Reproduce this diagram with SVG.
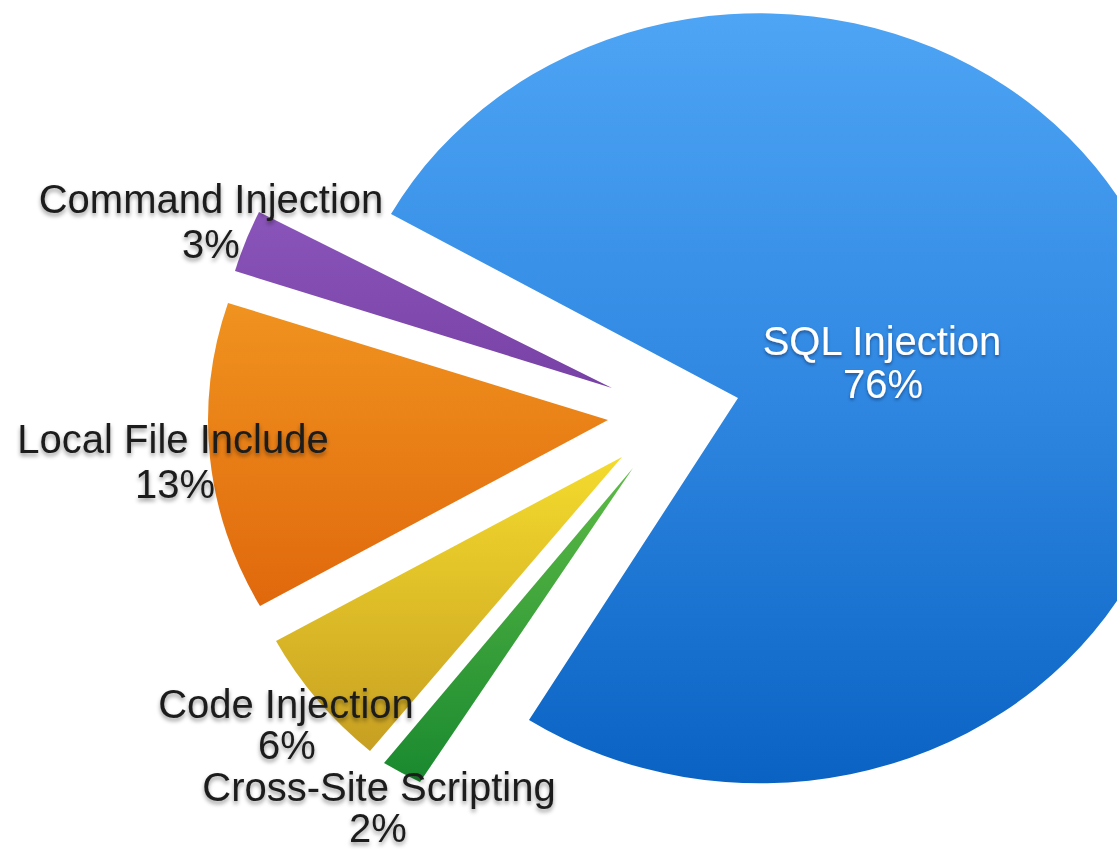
<svg xmlns="http://www.w3.org/2000/svg" width="1117" height="850" viewBox="0 0 1117 850">
  <defs>
    <linearGradient id="gBlue" x1="0" y1="0" x2="0" y2="1">
      <stop offset="0" stop-color="#4EA5F5"/>
      <stop offset="0.5" stop-color="#2F87E1"/>
      <stop offset="1" stop-color="#0A63C3"/>
    </linearGradient>
    <linearGradient id="gPurple" x1="0" y1="0" x2="0" y2="1">
      <stop offset="0" stop-color="#8A55BA"/>
      <stop offset="1" stop-color="#7841A6"/>
    </linearGradient>
    <linearGradient id="gOrange" x1="0" y1="0" x2="0" y2="1">
      <stop offset="0" stop-color="#F0931F"/>
      <stop offset="1" stop-color="#E0680C"/>
    </linearGradient>
    <linearGradient id="gYellow" x1="0" y1="0" x2="0" y2="1">
      <stop offset="0" stop-color="#F4DB2D"/>
      <stop offset="1" stop-color="#C79F22"/>
    </linearGradient>
    <linearGradient id="gGreen" x1="0" y1="0" x2="0" y2="1">
      <stop offset="0" stop-color="#5EBB46"/>
      <stop offset="1" stop-color="#19892F"/>
    </linearGradient>
    <filter id="darkShadow" x="-10%" y="-30%" width="120%" height="170%">
      <feDropShadow dx="0" dy="3" stdDeviation="2.2" flood-color="#000" flood-opacity="0.4"/>
    </filter>
    <filter id="lightShadow" x="-10%" y="-30%" width="120%" height="170%">
      <feDropShadow dx="0" dy="2" stdDeviation="1.5" flood-color="#0a2a55" flood-opacity="0.55"/>
    </filter>
  </defs>
  <style>
    .lbl { font-family: "Liberation Sans", Arial, sans-serif; font-size: 40px; text-anchor: middle; }
    .dark { fill: #1c1c1c; filter: url(#darkShadow); }
    .light { fill: #ffffff; filter: url(#lightShadow); }
  </style>

  <rect width="1117" height="850" fill="#ffffff"/>

  <!-- SQL Injection: main slice -->
  <g id="slice-sql">
    <path d="M738 398 L391 214 A420 385 0 1 1 529 720 Z" fill="url(#gBlue)"/>
  </g>

  <!-- Command Injection -->
  <g id="slice-command">
    <path d="M612 388 L259 212 A420 385 0 0 0 235 271 Z" fill="url(#gPurple)"/>
  </g>

  <!-- Local File Include -->
  <g id="slice-lfi">
    <path d="M608 420 L228 303 A420 385 0 0 0 260 606 Z" fill="url(#gOrange)"/>
  </g>

  <!-- Code Injection -->
  <g id="slice-code">
    <path d="M622 457 L276 641 A420 385 0 0 0 370 751 Z" fill="url(#gYellow)"/>
  </g>

  <!-- Cross-Site Scripting -->
  <g id="slice-xss">
    <path d="M633 468 L384 763 A420 385 0 0 0 420 782 Z" fill="url(#gGreen)"/>
  </g>

  <!-- labels -->
  <g id="label-sql" class="lbl light">
    <text x="882" y="355">SQL Injection</text>
    <text x="883" y="398">76%</text>
  </g>
  <g id="label-command" class="lbl dark">
    <text x="211" y="213">Command Injection</text>
    <text x="211" y="258">3%</text>
  </g>
  <g id="label-lfi" class="lbl dark">
    <text x="173" y="453">Local File Include</text>
    <text x="175" y="498">13%</text>
  </g>
  <g id="label-code" class="lbl dark">
    <text x="286" y="718">Code Injection</text>
    <text x="287" y="759">6%</text>
  </g>
  <g id="label-xss" class="lbl dark">
    <text x="379" y="801">Cross-Site Scripting</text>
    <text x="378" y="842">2%</text>
  </g>
</svg>
